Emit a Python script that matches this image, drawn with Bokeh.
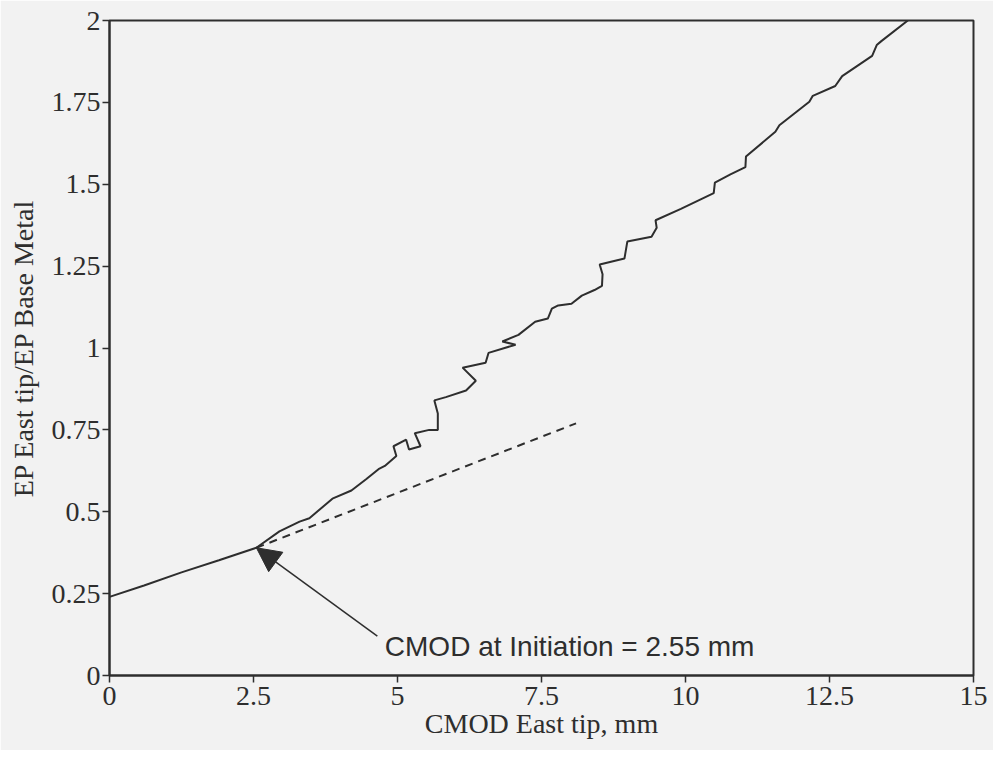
from bokeh.plotting import figure
from bokeh.models import Range1d, FixedTicker, Arrow, NormalHead, Label
from bokeh.embed import file_html
from bokeh.resources import INLINE

# ---- data ----
cmod = [0, 0.6, 1.25, 1.9, 2.55, 2.95, 3.3, 3.47, 3.87, 4.2,
        4.46, 4.67, 4.78, 4.98, 4.93, 5.15, 5.2, 5.4, 5.3, 5.55,
        5.7, 5.7, 5.64, 5.84, 6.19, 6.36, 6.13, 6.53, 6.58, 7.05,
        6.82, 7.1, 7.39, 7.61, 7.68, 7.79, 8.02, 8.2, 8.42, 8.55,
        8.56, 8.51, 8.94, 8.99, 9.41, 9.5, 9.48, 9.92, 10.49, 10.51,
        10.78, 11.04, 11.05, 11.56, 11.63, 12.15, 12.21, 12.6, 12.72, 13.24,
        13.32, 13.4, 13.86]
ep_ratio = [0.24, 0.275, 0.315, 0.352, 0.39, 0.44, 0.47, 0.48, 0.54, 0.565,
            0.60, 0.63, 0.64, 0.67, 0.70, 0.72, 0.69, 0.70, 0.74, 0.75,
            0.75, 0.80, 0.84, 0.85, 0.87, 0.90, 0.94, 0.955, 0.985, 1.01,
            1.02, 1.04, 1.08, 1.09, 1.12, 1.13, 1.135, 1.16, 1.177, 1.19,
            1.225, 1.255, 1.273, 1.325, 1.34, 1.367, 1.39, 1.425, 1.473, 1.505,
            1.53, 1.552, 1.585, 1.66, 1.68, 1.752, 1.77, 1.80, 1.83, 1.892,
            1.925, 1.937, 2.0]

# dashed linear extrapolation of the pre-initiation slope
trend_x = [2.55, 8.1]
trend_y = [0.39, 0.77]

x_ticks = [0, 2.5, 5, 7.5, 10, 12.5, 15]
x_tick_labels = ["0", "2.5", "5", "7.5", "10", "12.5", "15"]
y_ticks = [0, 0.25, 0.5, 0.75, 1, 1.25, 1.5, 1.75, 2]
y_tick_labels = ["0", "0.25", "0.5", "0.75", "1", "1.25", "1.5", "1.75", "2"]

init_cmod = 2.55
init_ratio = 0.39
annotation_text = "CMOD at Initiation = 2.55 mm"

INK = "#2e2e2e"
PAPER = "#f2f2f2"
SERIF = "Liberation Serif"

p = figure(width=993, height=750, output_backend="svg", toolbar_location=None,
           x_range=Range1d(0, 15), y_range=Range1d(0, 2),
           min_border_left=109, min_border_top=20, min_border_right=20,
           min_border_bottom=75,
           background_fill_color=PAPER, border_fill_color=PAPER)

p.grid.visible = False
p.outline_line_color = INK
p.outline_line_width = 2

for ax in (p.xaxis[0], p.yaxis[0]):
    ax.axis_line_color = INK
    ax.axis_line_width = 2
    ax.major_tick_line_color = INK
    ax.major_tick_line_width = 1.5
    ax.major_tick_out = 7
    ax.major_tick_in = 0
    ax.minor_tick_line_color = None
    ax.major_label_text_font = SERIF
    ax.major_label_text_font_size = "28px"
    ax.major_label_text_color = INK
    ax.axis_label_text_font = SERIF
    ax.axis_label_text_font_style = "normal"
    ax.axis_label_text_font_size = "28px"
    ax.axis_label_text_color = INK

p.xaxis.ticker = FixedTicker(ticks=x_ticks)
p.xaxis.major_label_overrides = {t: l for t, l in zip(x_ticks, x_tick_labels)}
p.yaxis.ticker = FixedTicker(ticks=y_ticks)
p.yaxis.major_label_overrides = {t: l for t, l in zip(y_ticks, y_tick_labels)}
p.xaxis.major_label_standoff = 4
p.yaxis.major_label_standoff = 2
p.xaxis.axis_label = "CMOD East tip, mm"
p.yaxis.axis_label = "EP East tip/EP Base Metal"
p.xaxis.axis_label_standoff = 0
p.yaxis.axis_label_standoff = 10

p.line(cmod, ep_ratio, line_color=INK, line_width=2)
p.line(trend_x, trend_y, line_color=INK, line_width=2, line_dash="8 6")

p.add_layout(Arrow(end=NormalHead(size=24, fill_color=INK, line_color=INK),
                   x_start=4.65, y_start=0.12, x_end=init_cmod, y_end=init_ratio,
                   line_color=INK, line_width=1.5))

p.add_layout(Label(x=4.78, y=0.088, text=annotation_text,
                   text_font="Liberation Sans", text_font_size="28px",
                   text_color=INK, text_baseline="middle"))

open("out.html", "w").write(file_html(p, INLINE))
